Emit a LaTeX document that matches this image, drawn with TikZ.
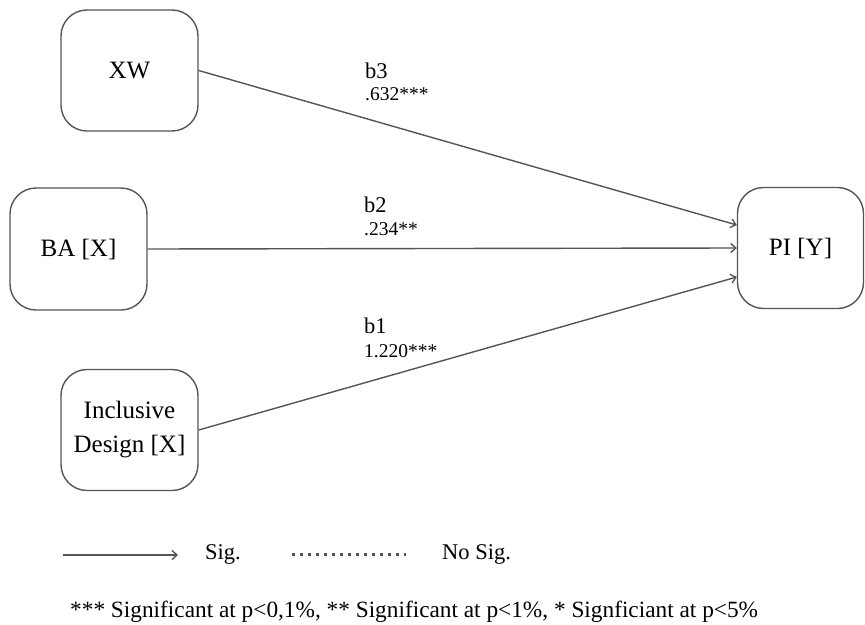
\documentclass[tikz,border=0pt]{standalone}
\usepackage{fontspec}
\setmainfont{Liberation Serif}
\usetikzlibrary{arrows.meta}
\definecolor{edgegray}{HTML}{555555}
\tikzset{
  varbox/.style={draw=edgegray, line width=1.4pt, rounded corners=26pt,
    minimum width=137pt, minimum height=121pt, inner sep=0pt, align=center,
    font=\fontsize{25}{34}\selectfont},
  path/.style={draw=edgegray, line width=1.4pt,
    -{Straight Barb[length=5pt,width=9pt,line width=1.4pt]}},
  coefname/.style={anchor=base west, inner sep=0pt, font=\fontsize{22.5}{26}\selectfont},
  coefval/.style={anchor=base west, inner sep=0pt, font=\fontsize{19.5}{22}\selectfont},
  legendtext/.style={anchor=base west, inner sep=0pt, font=\fontsize{22.5}{26}\selectfont}
}
\begin{document}
\begin{tikzpicture}[x=1pt, y=-1pt]
  \useasboundingbox (0,0) rectangle (865,624);

  % variables
  \node[varbox] (xw)  at (129.5,70.5) {XW};
  \node[varbox, minimum height=122pt] (ba) at (78.5,249) {BA [X]};
  \node[varbox] (inc) at (129.5,430) {Inclusive\\Design [X]};
  \node[varbox, minimum width=126pt] (pi) at (800.5,248) {PI [Y]};

  % paths
  \draw[path] (xw.east)  -- ([yshift=23pt]pi.west);
  \draw[path] (ba.east)  -- (pi.west);
  \draw[path] (inc.east) -- ([yshift=-29pt]pi.west);

  % coefficients
  \node[coefname] (lb3) at (365,78)  {b3};
  \node[coefval]  (vb3) at (365,100) {.632***};
  \node[coefname] (lb2) at (364,212) {b2};
  \node[coefval]  (vb2) at (364,235) {.234**};
  \node[coefname] (lb1) at (364,333) {b1};
  \node[coefval]  (vb1) at (364,357) {1.220***};

  % legend
  \coordinate (sigA) at (63,555);
  \coordinate (sigB) at (178,555);
  \draw[path, line width=1.3pt] (sigA) -- (sigB);
  \node[legendtext] (sig) at (205,559) {Sig.};
  \coordinate (nsA) at (292,554);
  \coordinate (nsB) at (406,554);
  \draw[edgegray, line width=3pt, dash pattern=on 3.2pt off 4.8pt] (nsA) -- (nsB);
  \node[legendtext] (nosig) at (442,559) {No Sig.};

  % significance note
  \node[anchor=base west, inner sep=0pt, font=\fontsize{23.3}{26}\selectfont] (note) at (70,617)
    {*** Significant at p<0,1\%, ** Significant at p<1\%, * Signficiant at p<5\%};
\end{tikzpicture}
\end{document}
